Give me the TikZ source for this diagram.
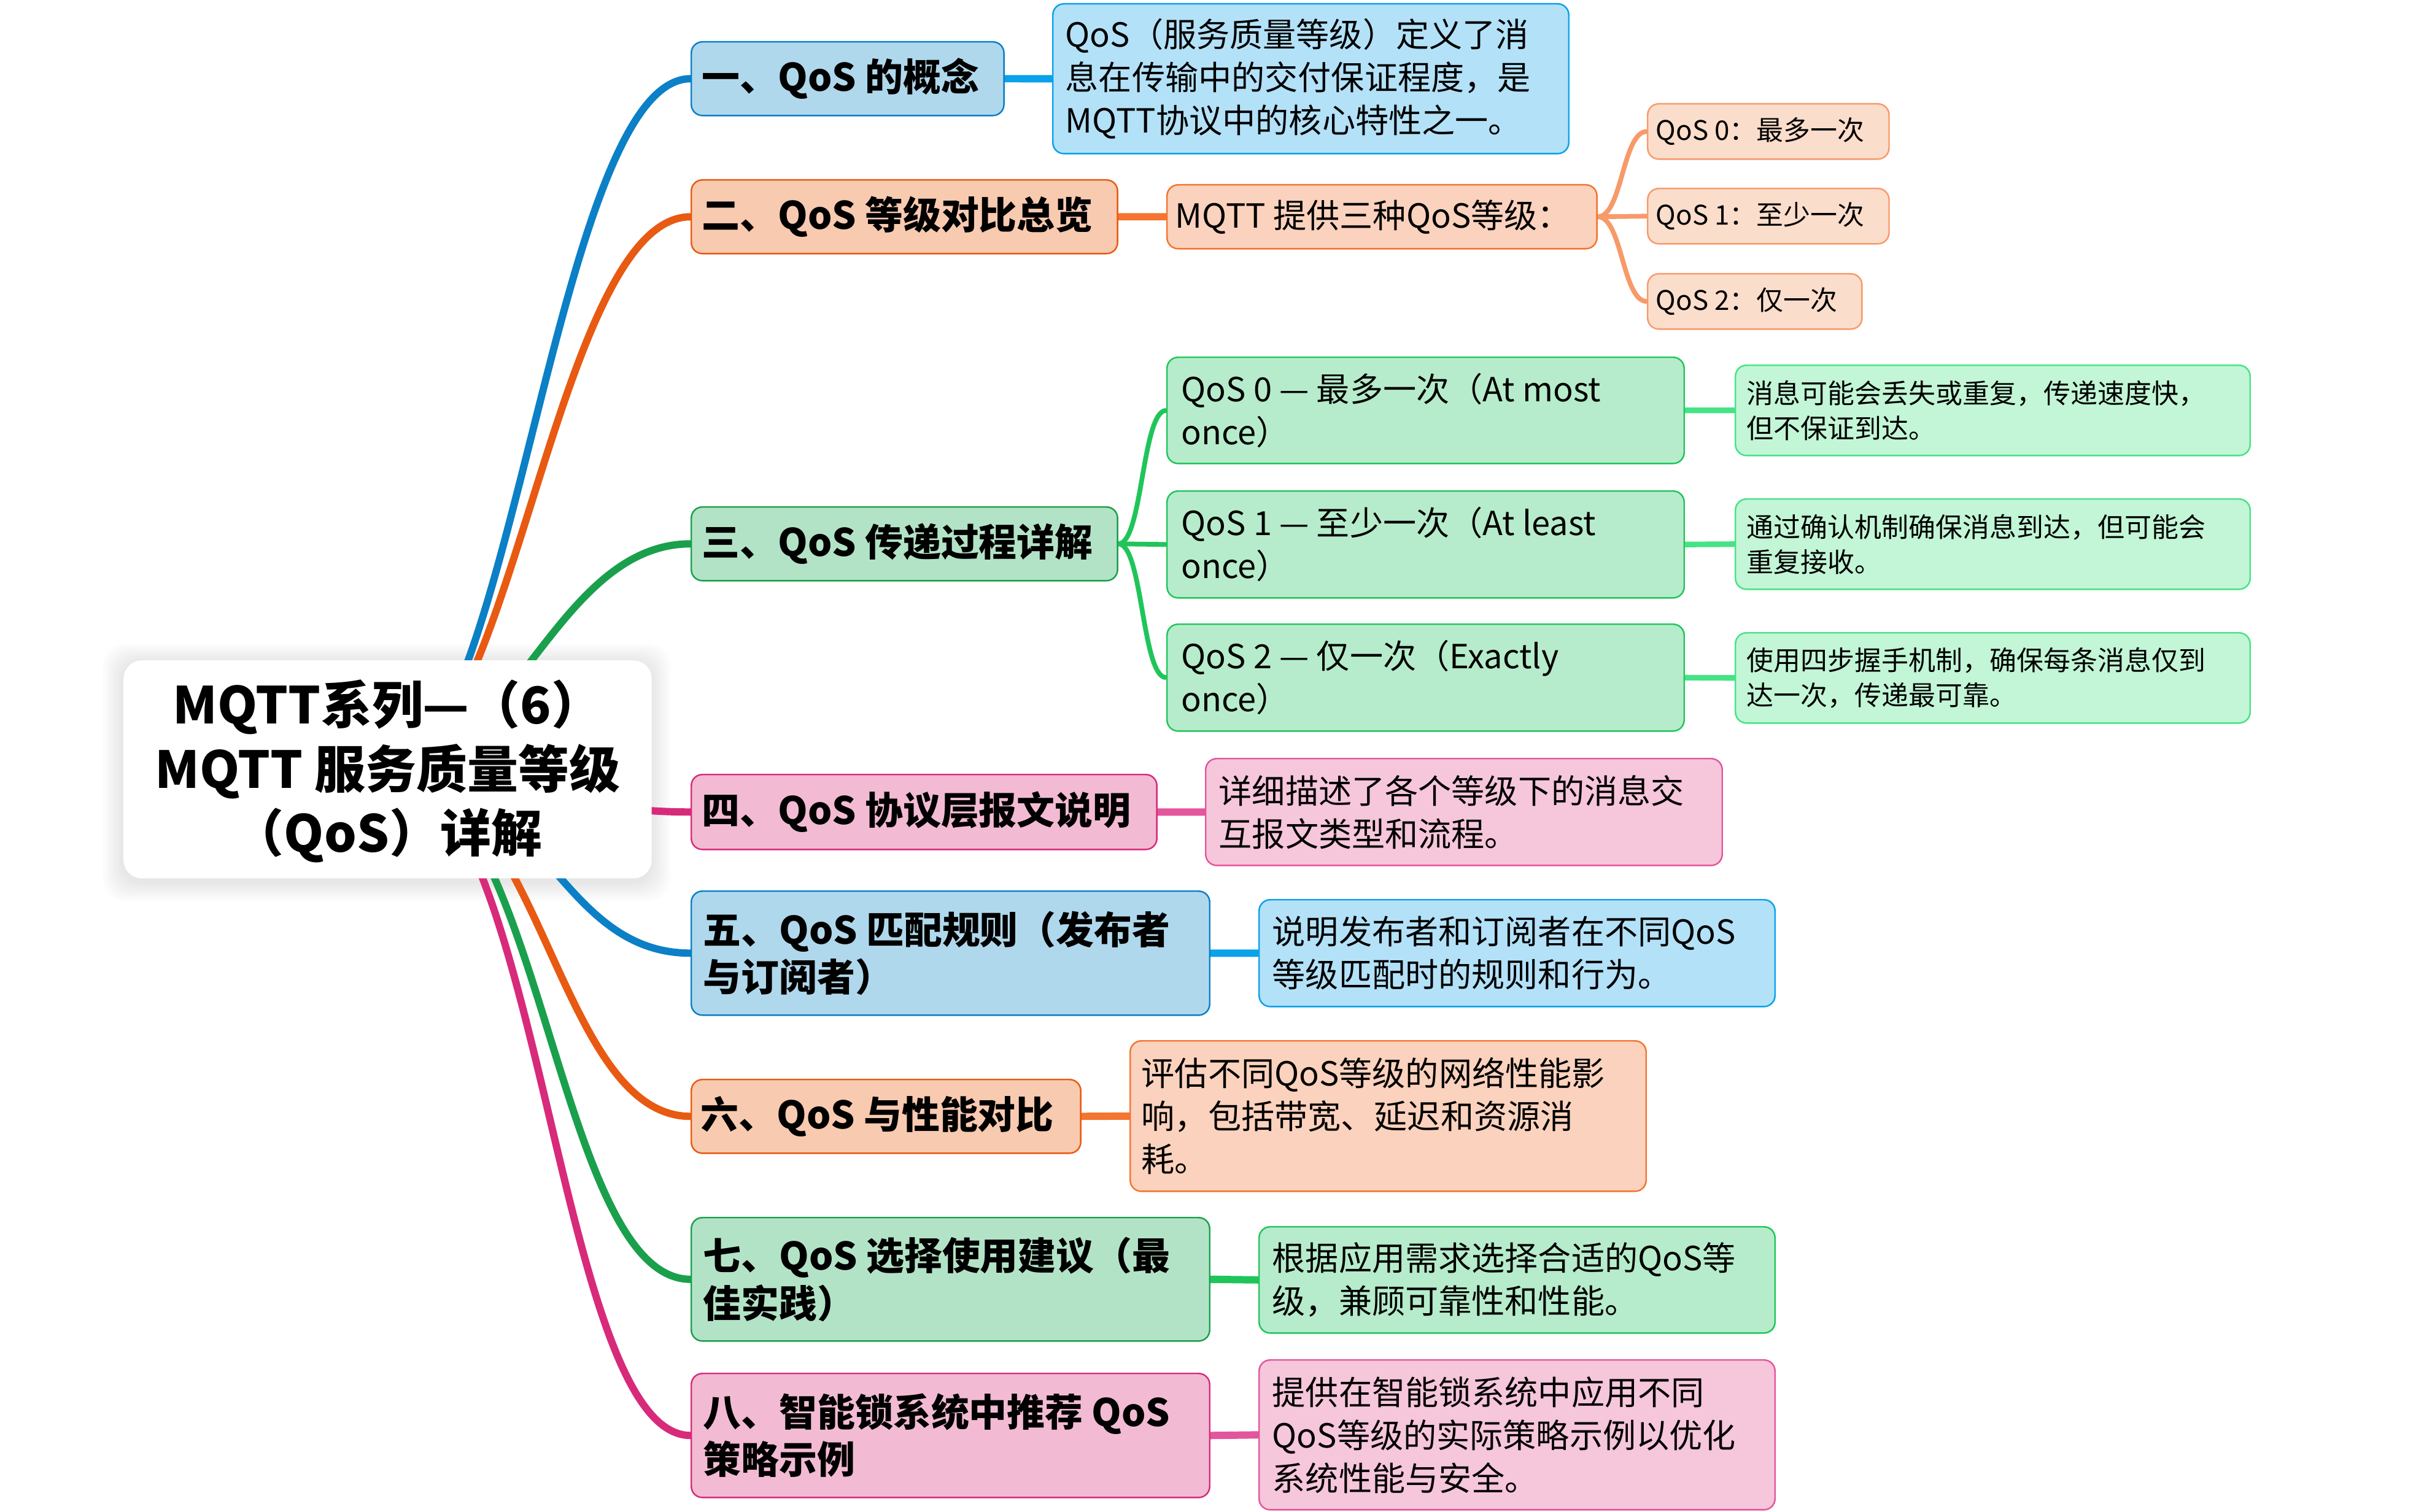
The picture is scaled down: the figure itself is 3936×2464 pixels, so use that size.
\documentclass[tikz,border=0pt]{standalone}
\usepackage{fontspec}
\setmainfont{Noto Sans CJK SC}
\usetikzlibrary{backgrounds}
\definecolor{bluetr}{HTML}{0B80C6}
\definecolor{bluebf}{HTML}{B0D8EC}
\definecolor{bluelk}{HTML}{0AA2EA}
\definecolor{bluelf}{HTML}{B3E1F8}
\definecolor{orangetr}{HTML}{E85A12}
\definecolor{orangebf}{HTML}{F8CAB0}
\definecolor{orangelk}{HTML}{F47430}
\definecolor{orangelf}{HTML}{FBD2BD}
\definecolor{subbd}{HTML}{F79A6A}
\definecolor{subfill}{HTML}{FBDDCC}
\definecolor{greentr}{HTML}{1AA04C}
\definecolor{greenbf}{HTML}{B3E3C6}
\definecolor{greenlk}{HTML}{20C55A}
\definecolor{greenlf}{HTML}{B6ECCB}
\definecolor{detbd}{HTML}{45E385}
\definecolor{detfill}{HTML}{C2F6D6}
\definecolor{pinktr}{HTML}{D82A7A}
\definecolor{pinkbf}{HTML}{F2BBD3}
\definecolor{pinklk}{HTML}{E3559C}
\definecolor{pinklf}{HTML}{F6C6DB}
\newcommand\fontRt{\fontsize{23.6pt}{29.8pt}\selectfont\bfseries}
\newcommand\fontBr{\fontsize{17.6pt}{22pt}\selectfont\bfseries}
\newcommand\fontLf{\fontsize{15.4pt}{19.9pt}\selectfont}
\newcommand\fontDt{\fontsize{12.5pt}{16.2pt}\selectfont}
\tikzset{
  boxbase/.style={rounded corners=0.18cm, line width=0.7pt, inner sep=0pt, anchor=north west},
  bbox/.style={boxbase, draw=#1tr, fill=#1bf},
  lbox/.style={boxbase, draw=#1lk, fill=#1lf},
  subbox/.style={boxbase, draw=subbd, fill=subfill},
  detbox/.style={boxbase, draw=detbd, fill=detfill},
  btxt/.style={anchor=west, align=left, inner sep=0pt, font=\fontBr},
  ltxt/.style={anchor=west, align=left, inner sep=0pt, font=\fontLf},
  dtxt/.style={anchor=west, align=left, inner sep=0pt, font=\fontDt},
  trunk/.style={draw=#1, line width=3.4pt},
  lnk/.style={draw=#1, line width=3.4pt},
  thin/.style={draw=#1, line width=2.2pt},
}
\begin{document}
\begin{tikzpicture}[x=0.01cm, y=-0.01cm]
\useasboundingbox (0,0) rectangle (3936,2464);
% root
\node[boxbase, rounded corners=0.3cm, draw=none, fill=white, minimum width=8.60cm, minimum height=3.55cm] (R) at (200,1075) {};
\node[align=center, inner sep=0pt, font=\fontRt] (Rt) at ([yshift=-0.03cm]R.center) {MQTT系列—（6）\\MQTT 服务质量等级\\（QoS）详解};
% branches
\node[bbox=blue, minimum width=5.09cm, minimum height=1.20cm] (B1) at (1125,67) {};
\node[btxt] (B1t) at ([xshift=0.18cm]B1.west) {一、QoS 的概念};
\node[bbox=orange, minimum width=6.94cm, minimum height=1.20cm] (B2) at (1125,292) {};
\node[btxt] (B2t) at ([xshift=0.18cm]B2.west) {二、QoS 等级对比总览};
\node[bbox=green, minimum width=6.94cm, minimum height=1.20cm] (B3) at (1125,825) {};
\node[btxt] (B3t) at ([xshift=0.18cm]B3.west) {三、QoS 传递过程详解};
\node[bbox=pink, minimum width=7.58cm, minimum height=1.22cm] (B4) at (1125,1261) {};
\node[btxt] (B4t) at ([xshift=0.18cm]B4.west) {四、QoS 协议层报文说明};
\node[bbox=blue, minimum width=8.44cm, minimum height=2.02cm] (B5) at (1125,1451) {};
\node[btxt] (B5t) at ([xshift=0.2cm]B5.west) {五、QoS 匹配规则（发布者\\与订阅者）};
\node[bbox=orange, minimum width=6.34cm, minimum height=1.20cm] (B6) at (1125,1758) {};
\node[btxt] (B6t) at ([xshift=0.16cm]B6.west) {六、QoS 与性能对比};
\node[bbox=green, minimum width=8.44cm, minimum height=2.01cm] (B7) at (1125,1983) {};
\node[btxt] (B7t) at ([xshift=0.2cm]B7.west) {七、QoS 选择使用建议（最\\佳实践）};
\node[bbox=pink, minimum width=8.44cm, minimum height=2.02cm] (B8) at (1125,2237) {};
\node[btxt] (B8t) at ([xshift=0.2cm]B8.west) {八、智能锁系统中推荐 QoS\\策略示例};
% leaves
\node[lbox=blue, minimum width=8.40cm, minimum height=2.44cm] (L1) at (1714,5) {};
\node[ltxt] (L1t) at ([xshift=0.21cm]L1.west) {QoS（服务质量等级）定义了消\\息在传输中的交付保证程度，是\\MQTT协议中的核心特性之一。};
\node[lbox=orange, minimum width=7.00cm, minimum height=1.04cm] (L2) at (1900,300) {};
\node[ltxt] (L2t) at ([xshift=0.14cm]L2.west) {MQTT 提供三种QoS等级：};
\node[subbox, minimum width=3.93cm, minimum height=0.90cm] (S0) at (2683,168) {};
\node[dtxt] (S0t) at ([xshift=0.14cm]S0.west) {QoS 0：最多一次};
\node[subbox, minimum width=3.93cm, minimum height=0.90cm] (S1) at (2683,306) {};
\node[dtxt] (S1t) at ([xshift=0.14cm]S1.west) {QoS 1：至少一次};
\node[subbox, minimum width=3.49cm, minimum height=0.90cm] (S2) at (2683,445) {};
\node[dtxt] (S2t) at ([xshift=0.14cm]S2.west) {QoS 2：仅一次};
\node[lbox=green, minimum width=8.42cm, minimum height=1.73cm] (Q0) at (1900,581) {};
\node[ltxt] (Q0t) at ([xshift=0.24cm]Q0.west) {QoS 0 — 最多一次（At most\\once）};
\node[lbox=green, minimum width=8.42cm, minimum height=1.74cm] (Q1) at (1900,799) {};
\node[ltxt] (Q1t) at ([xshift=0.24cm]Q1.west) {QoS 1 — 至少一次（At least\\once）};
\node[lbox=green, minimum width=8.42cm, minimum height=1.74cm] (Q2) at (1900,1016) {};
\node[ltxt] (Q2t) at ([xshift=0.24cm]Q2.west) {QoS 2 — 仅一次（Exactly\\once）};
\node[detbox, minimum width=8.38cm, minimum height=1.47cm] (D0) at (2826,594) {};
\node[dtxt] (D0t) at ([xshift=0.19cm]D0.west) {消息可能会丢失或重复，传递速度快，\\但不保证到达。};
\node[detbox, minimum width=8.38cm, minimum height=1.47cm] (D1) at (2826,812) {};
\node[dtxt] (D1t) at ([xshift=0.19cm]D1.west) {通过确认机制确保消息到达，但可能会\\重复接收。};
\node[detbox, minimum width=8.38cm, minimum height=1.47cm] (D2) at (2826,1030) {};
\node[dtxt] (D2t) at ([xshift=0.19cm]D2.west) {使用四步握手机制，确保每条消息仅到\\达一次，传递最可靠。};
\node[lbox=pink, minimum width=8.41cm, minimum height=1.74cm] (L4) at (1963,1235) {};
\node[ltxt] (L4t) at ([xshift=0.22cm]L4.west) {详细描述了各个等级下的消息交\\互报文类型和流程。};
\node[lbox=blue, minimum width=8.40cm, minimum height=1.74cm] (L5) at (2050,1465) {};
\node[ltxt] (L5t) at ([xshift=0.22cm]L5.west) {说明发布者和订阅者在不同QoS\\等级匹配时的规则和行为。};
\node[lbox=orange, minimum width=8.40cm, minimum height=2.45cm] (L6) at (1840,1695) {};
\node[ltxt] (L6t) at ([xshift=0.19cm]L6.west) {评估不同QoS等级的网络性能影\\响，包括带宽、延迟和资源消\\耗。};
\node[lbox=green, minimum width=8.40cm, minimum height=1.73cm] (L7) at (2050,1998) {};
\node[ltxt] (L7t) at ([xshift=0.22cm]L7.west) {根据应用需求选择合适的QoS等\\级，兼顾可靠性和性能。};
\node[lbox=pink, minimum width=8.40cm, minimum height=2.44cm] (L8) at (2050,2215) {};
\node[ltxt] (L8t) at ([xshift=0.22cm]L8.west) {提供在智能锁系统中应用不同\\QoS等级的实际策略示例以优化\\系统性能与安全。};
\begin{pgfonlayer}{background}
  % soft shadow of root
  \foreach \e in {4,8,...,32} {
    \fill[black, opacity=0.01, rounded corners=0.35cm] (200-\e,1075-\e+6) rectangle (1060+\e,1430+\e+6);
  }
  % trunk lines
  \draw[trunk=bluetr]   (R.center) .. controls +(200,0) and +(-220,0) .. (B1.west);
  \draw[trunk=orangetr] (R.center) .. controls +(200,0) and +(-220,0) .. (B2.west);
  \draw[trunk=greentr]  (R.center) .. controls +(200,0) and +(-220,0) .. (B3.west);
  \draw[trunk=pinktr]   (R.center) .. controls +(200,0) and +(-220,0) .. (B4.west);
  \draw[trunk=bluetr]   (R.center) .. controls +(250,0) and +(-220,0) .. (B5.west);
  \draw[trunk=orangetr] (R.center) .. controls +(250,0) and +(-220,0) .. (B6.west);
  \draw[trunk=greentr]  (R.center) .. controls +(250,0) and +(-220,0) .. (B7.west);
  \draw[trunk=pinktr]   (R.center) .. controls +(250,0) and +(-220,0) .. (B8.west);
  % branch to leaf links
  \draw[lnk=bluelk] (B1.east) -- (L1.west);
  \draw[lnk=orangelk] (B2.east) -- (L2.west);
  \draw[lnk=pinklk] (B4.east) -- (L4.west);
  \draw[lnk=bluelk] (B5.east) -- (L5.west);
  \draw[lnk=orangelk] (B6.east) -- (L6.west);
  \draw[lnk=greenlk] (B7.east) -- (L7.west);
  \draw[lnk=pinklk] (B8.east) -- (L8.west);
  % sub links
  \draw[thin=subbd] (L2.east) .. controls +(40,0) and +(-40,0) .. (S0.west);
  \draw[thin=subbd] (L2.east) -- (S1.west);
  \draw[thin=subbd] (L2.east) .. controls +(40,0) and +(-40,0) .. (S2.west);
  \draw[thin=greenlk] (B3.east) .. controls +(40,0) and +(-40,0) .. (Q0.west);
  \draw[thin=greenlk] (B3.east) -- (Q1.west);
  \draw[thin=greenlk] (B3.east) .. controls +(40,0) and +(-40,0) .. (Q2.west);
  \draw[thin=detbd, line width=2.6pt] (Q0.east) -- (D0.west);
  \draw[thin=detbd, line width=2.6pt] (Q1.east) -- (D1.west);
  \draw[thin=detbd, line width=2.6pt] (Q2.east) -- (D2.west);
\end{pgfonlayer}
\end{tikzpicture}
\end{document}
